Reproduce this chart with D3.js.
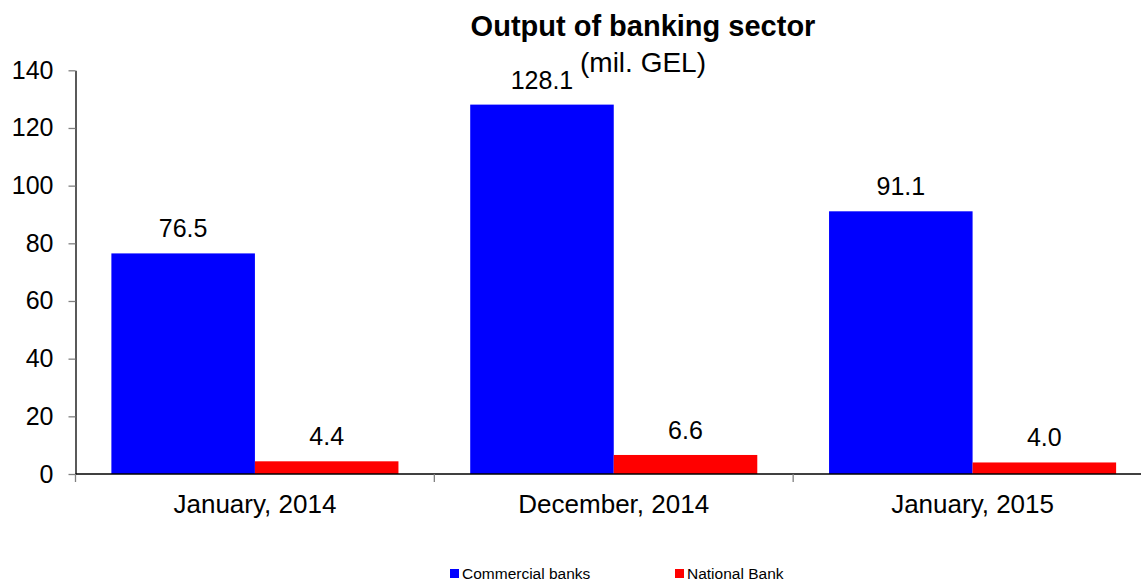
<!DOCTYPE html>
<html>
<head>
<meta charset="utf-8">
<script src="https://cdn.jsdelivr.net/npm/d3@7"></script>
<style>
  body { margin: 0; background: #fff; }
  svg text { font-family: "Liberation Sans", Arial, sans-serif; fill: #000; }
</style>
</head>
<body>
<svg id="chart"></svg>
<script>
// Chart data
const categories = ['January, 2014', 'December, 2014', 'January, 2015'];
const seriesNames = ['Commercial banks', 'National Bank'];
const commercialBanks = [76.5, 128.1, 91.1];
const nationalBank = [4.4, 6.6, 4.0];
const yTicks = [0, 20, 40, 60, 80, 100, 120, 140];
const seriesColors = ['#0000ff', '#ff0000'];

const width = 1141;
const height = 581;
const margin = { top: 70.3, left: 75.5, bottom: 107 };
const plotRight = 1152;

const svg = d3.select('#chart')
    .attr('width', width)
    .attr('height', height);

// Scales
const x0 = d3.scaleBand()
    .domain(categories)
    .range([margin.left, plotRight])
    .paddingInner(0.2)
    .paddingOuter(0.1);

const x1 = d3.scaleBand()
    .domain(seriesNames)
    .range([0, x0.bandwidth()]);

const y = d3.scaleLinear()
    .domain([0, 140])
    .range([height - margin.bottom, margin.top]);

const color = d3.scaleOrdinal()
    .domain(seriesNames)
    .range(seriesColors);

// Table built from the arrays
const rows = categories.map((c, i) => ({
    category: c,
    values: [
        { name: seriesNames[0], value: commercialBanks[i] },
        { name: seriesNames[1], value: nationalBank[i] }
    ]
}));

// Y axis
const yAxis = svg.append('g')
    .attr('transform', `translate(${margin.left},0)`)
    .call(d3.axisLeft(y).tickValues(yTicks).tickSize(7).tickPadding(15).tickSizeOuter(0));
yAxis.select('.domain').attr('stroke', '#000').attr('stroke-width', 1.3);
yAxis.selectAll('.tick line').attr('stroke', '#808080').attr('stroke-width', 1.3);
yAxis.selectAll('.tick text')
    .style('font-size', '25px')
    .style('font-family', '"Liberation Sans", Arial, sans-serif');

// Bars
const groups = svg.selectAll('.group')
    .data(rows)
    .enter()
    .append('g')
    .attr('class', 'group')
    .attr('transform', d => `translate(${x0(d.category)},0)`);

groups.selectAll('rect')
    .data(d => d.values)
    .enter()
    .append('rect')
    .attr('x', d => x1(d.name))
    .attr('y', d => y(d.value))
    .attr('width', x1.bandwidth())
    .attr('height', d => y(0) - y(d.value))
    .attr('fill', d => color(d.name));

// Value labels
groups.selectAll('.value')
    .data(d => d.values)
    .enter()
    .append('text')
    .attr('class', 'value')
    .attr('x', d => x1(d.name) + x1.bandwidth() / 2)
    .attr('y', d => y(d.value) - 16)
    .attr('text-anchor', 'middle')
    .style('font-size', '25px')
    .text(d => d.value.toFixed(1));

// X axis line and category boundary ticks
const boundaries = categories.map(c => x0(c) - x0.step() * x0.paddingOuter());
boundaries.push(x0(categories[categories.length - 1]) + x0.bandwidth() + x0.step() * x0.paddingOuter());

svg.append('line')
    .attr('x1', margin.left)
    .attr('x2', width)
    .attr('y1', y(0))
    .attr('y2', y(0))
    .attr('stroke', '#000')
    .attr('stroke-width', 1.3);

svg.selectAll('.xtick')
    .data(boundaries)
    .enter()
    .append('line')
    .attr('class', 'xtick')
    .attr('x1', d => d)
    .attr('x2', d => d)
    .attr('y1', y(0))
    .attr('y2', y(0) + 8)
    .attr('stroke', '#808080')
    .attr('stroke-width', 1.3);

svg.selectAll('.xlabel')
    .data(categories)
    .enter()
    .append('text')
    .attr('class', 'xlabel')
    .attr('x', d => x0(d) + x0.bandwidth() / 2)
    .attr('y', y(0) + 39)
    .attr('text-anchor', 'middle')
    .style('font-size', '26px')
    .text(d => d);

// Title
svg.append('text')
    .attr('x', 643)
    .attr('y', 36)
    .attr('text-anchor', 'middle')
    .style('font-size', '29px')
    .style('font-weight', 'bold')
    .text('Output of banking sector');

svg.append('text')
    .attr('x', 643)
    .attr('y', 72)
    .attr('text-anchor', 'middle')
    .style('font-size', '28px')
    .text('(mil. GEL)');

// Legend
const legendX = [450, 675];
const legend = svg.selectAll('.legend-item')
    .data(seriesNames)
    .enter()
    .append('g')
    .attr('class', 'legend-item')
    .attr('transform', (d, i) => `translate(${legendX[i]}, 569)`);

legend.append('rect')
    .attr('width', 9)
    .attr('height', 9)
    .attr('fill', d => color(d));

legend.append('text')
    .attr('x', 12)
    .attr('y', 9.5)
    .style('font-size', '15.5px')
    .text(d => d);
</script>
</body>
</html>
